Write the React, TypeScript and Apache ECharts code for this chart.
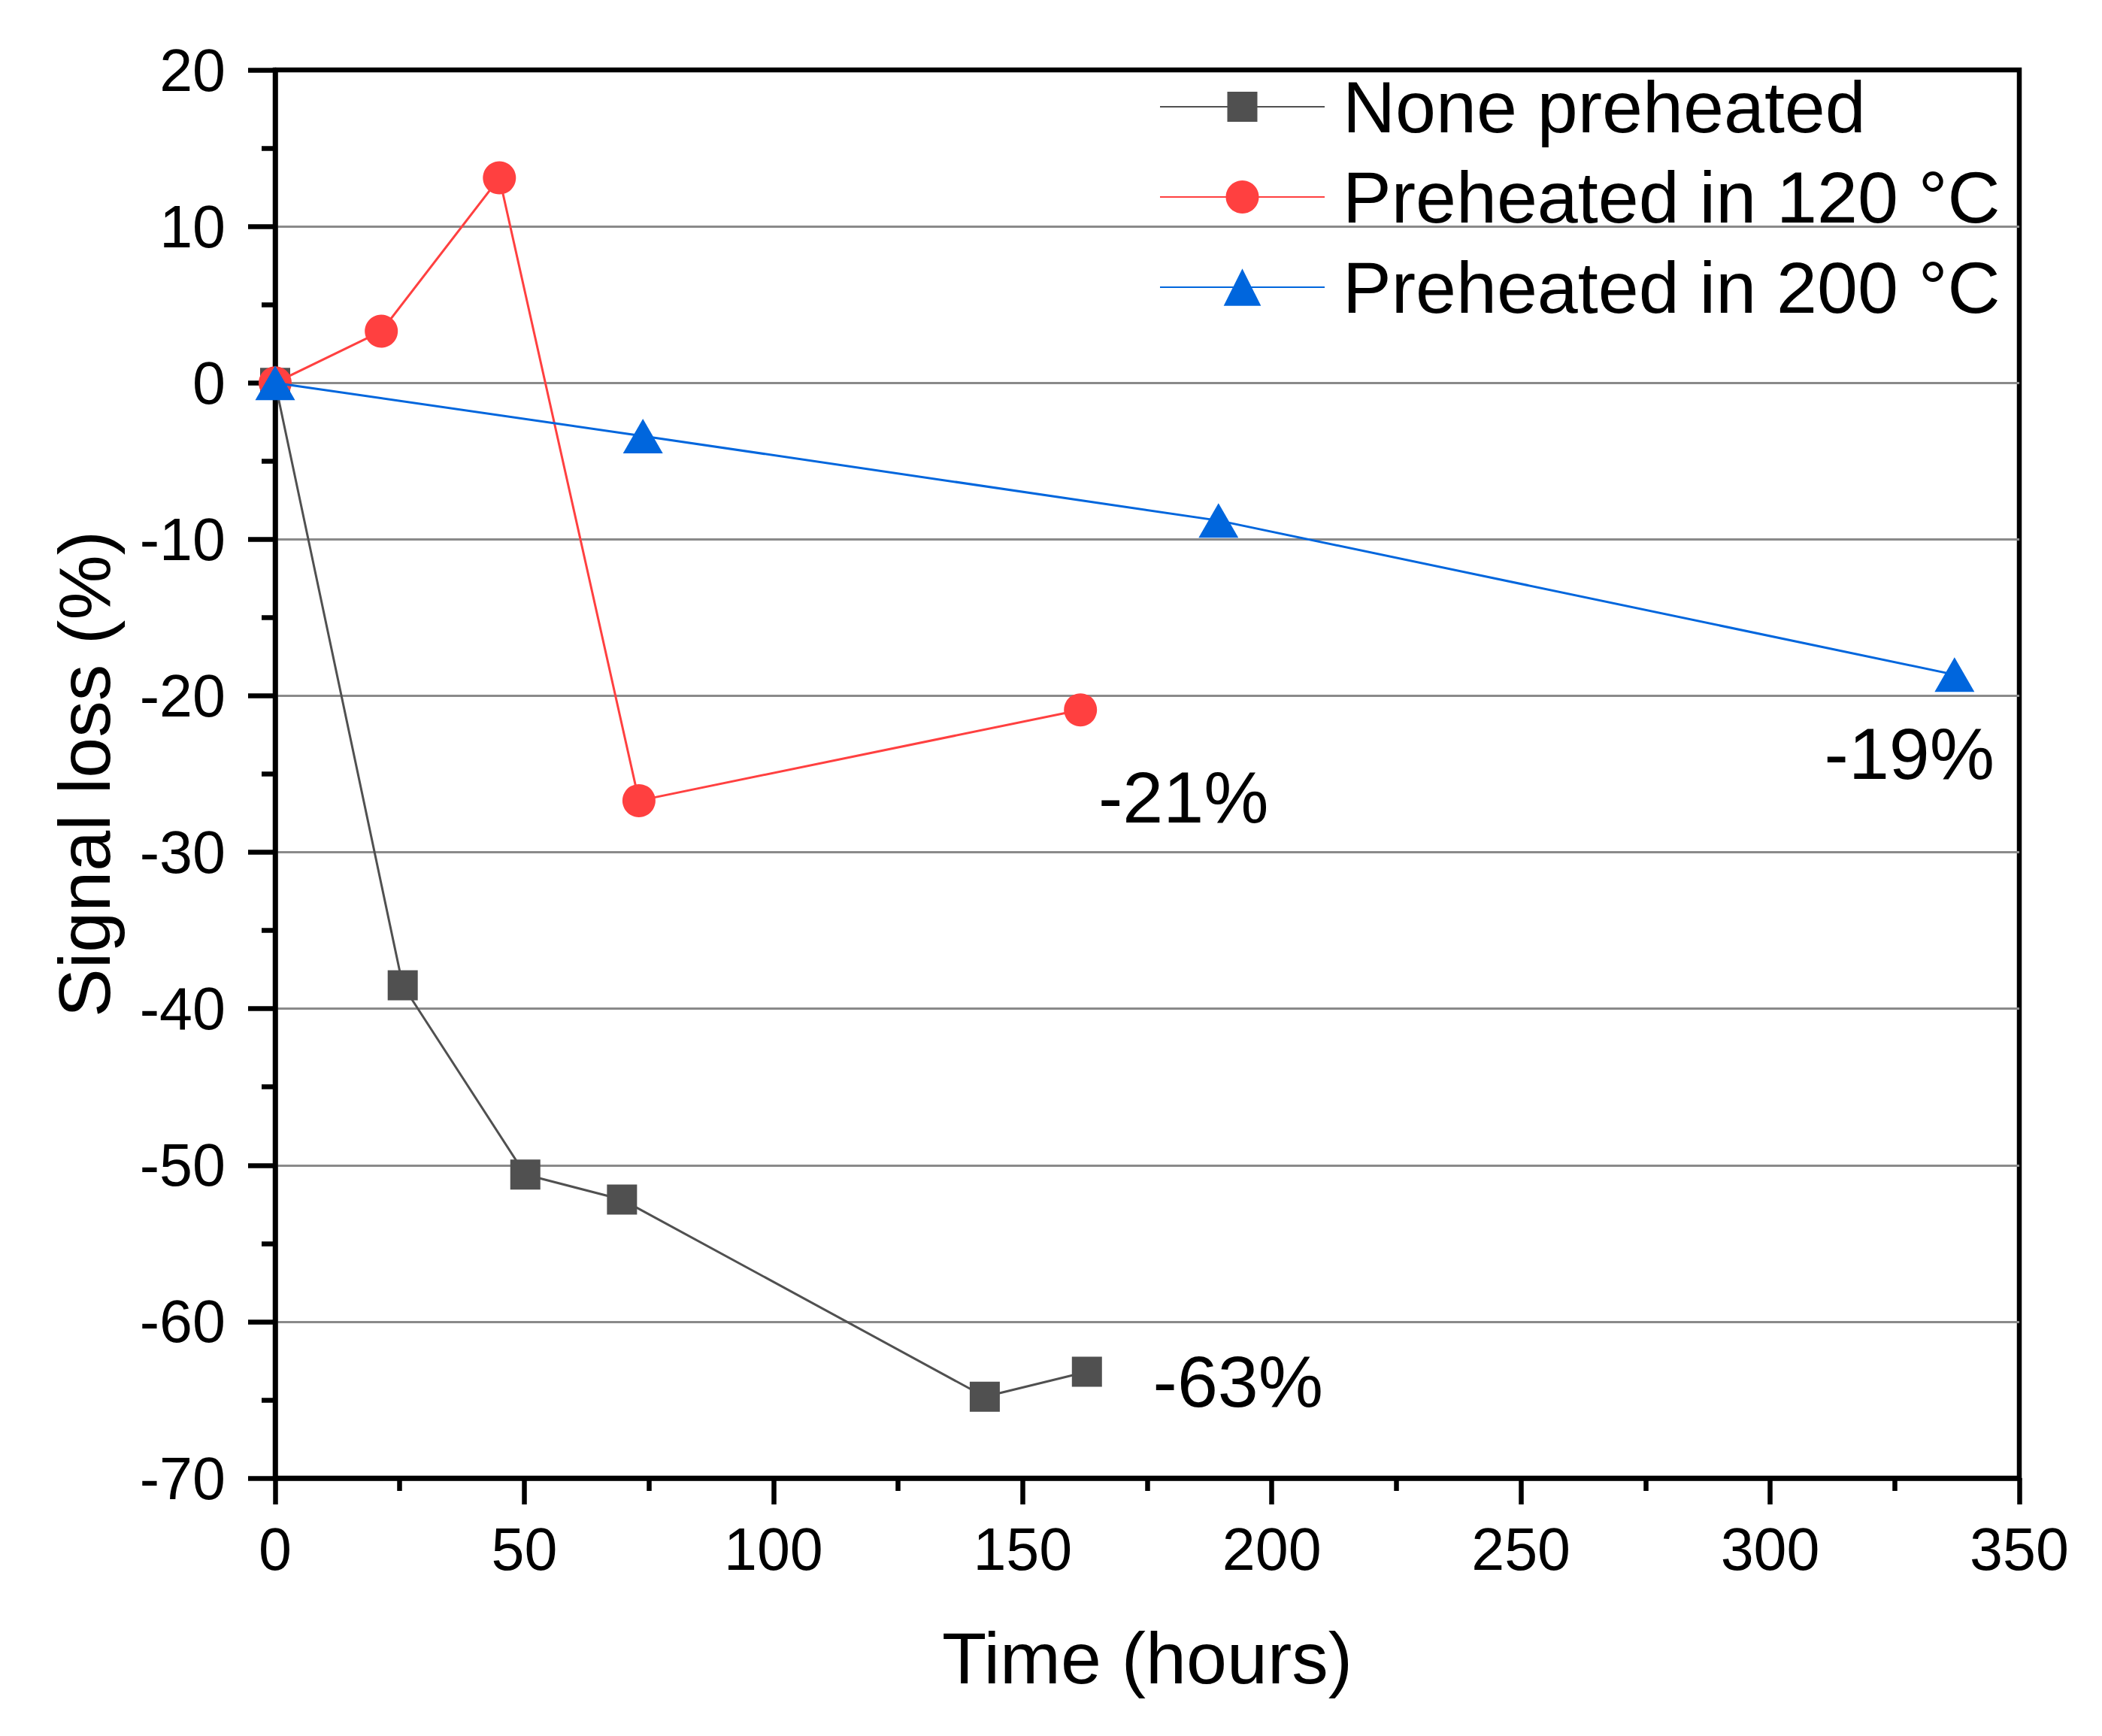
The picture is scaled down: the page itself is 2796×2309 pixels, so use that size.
import React, { useEffect, useRef } from "react";
import * as echarts from "echarts";

const seriesNames = ["None preheated", "Preheated in 120 °C", "Preheated in 200 °C"];

const noneHours = [0, 25.6, 50.2, 69.6, 142.4, 162.9];
const noneLoss = [0, -38.5, -50.6, -52.2, -64.8, -63.2];

const heat120Hours = [0, 21.3, 45.0, 73.0, 161.6];
const heat120Loss = [0, 3.3, 13.1, -26.7, -20.9];

const heat200Hours = [0, 73.8, 189.3, 337.0];
const heat200Loss = [0, -3.4, -8.8, -18.65];

const endLabels = ["-63%", "-21%", "-19%"];

const xTicks = { min: 0, max: 350, interval: 50 };
const yTicks = { min: -70, max: 20, interval: 10 };

const FONT = "Liberation Sans, Arial, sans-serif";

function buildData(xs: number[], ys: number[], label: string, offset: number[]) {
  return xs.map((x, i) => {
    const item: any = { value: [x, ys[i]] };
    if (i === xs.length - 1) {
      item.label = {
        show: true,
        position: "inside",
        formatter: label,
        offset,
        align: "center",
        verticalAlign: "middle",
        fontSize: 97,
        fontFamily: FONT,
        color: "#000",
      };
    }
    return item;
  });
}

export default function App() {
  const ref = useRef<HTMLDivElement>(null);
  useEffect(() => {
    if (!ref.current) return;
    const chart = echarts.init(ref.current, null, { renderer: "svg" });
    const colors = ["#505050", "#ff4040", "#0066dd"];
    const legendRows = [142, 262, 382];
    const legendItemHeights = [50, 55, 62];
    const legends = seriesNames.map((n, i) => ({
      data: [n],
      orient: "vertical",
      left: 1542,
      top: legendRows[i] - 50,
      padding: 0,
      itemWidth: 219,
      itemHeight: legendItemHeights[i],
      selectedMode: false,
      textStyle: {
        fontSize: 97,
        fontFamily: FONT,
        color: "#000",
        lineHeight: 100,
        padding: [0, 0, 0, 19],
      },
    }));
    chart.setOption({
      animation: false,
      backgroundColor: "#fff",
      textStyle: { fontFamily: FONT },
      grid: {
        left: 366,
        top: 93,
        width: 2320,
        height: 1873,
        show: true,
        borderColor: "#000",
        borderWidth: 6.5,
        backgroundColor: "transparent",
      },
      legend: legends,
      xAxis: {
        type: "value",
        min: xTicks.min,
        max: xTicks.max,
        interval: xTicks.interval,
        name: "Time (hours)",
        nameLocation: "middle",
        nameGap: 191,
        nameTextStyle: { fontSize: 97, fontFamily: FONT, color: "#000" },
        axisLine: { show: true, onZero: false, lineStyle: { color: "#000", width: 6.5 } },
        axisTick: { show: true, inside: false, length: 35, lineStyle: { color: "#000", width: 6.5 } },
        minorTick: { show: true, splitNumber: 2, length: 17, lineStyle: { color: "#000", width: 6.5 } },
        axisLabel: { fontSize: 79, fontFamily: FONT, color: "#000", margin: 55 },
        splitLine: { show: false },
      },
      yAxis: {
        type: "value",
        min: yTicks.min,
        max: yTicks.max,
        interval: yTicks.interval,
        name: "Signal loss (%)",
        nameLocation: "middle",
        nameGap: 205,
        nameTextStyle: { fontSize: 97, fontFamily: FONT, color: "#000" },
        axisLine: { show: true, onZero: false, lineStyle: { color: "#000", width: 6.5 } },
        axisTick: { show: true, inside: false, length: 36, lineStyle: { color: "#000", width: 6.5 } },
        minorTick: { show: true, splitNumber: 2, length: 18, lineStyle: { color: "#000", width: 6.5 } },
        axisLabel: { fontSize: 79, fontFamily: FONT, color: "#000", margin: 66 },
        splitLine: {
          show: true,
          showMinLine: false,
          showMaxLine: false,
          lineStyle: { color: "#8a8a8a", width: 3 },
        },
      },
      series: [
        {
          name: seriesNames[0],
          type: "line",
          data: buildData(noneHours, noneLoss, endLabels[0], [201, 13]),
          symbol: "rect",
          symbolSize: 40,
          itemStyle: { color: colors[0] },
          lineStyle: { color: colors[0], width: 3 },
          clip: false,
          z: 3,
        },
        {
          name: seriesNames[1],
          type: "line",
          data: buildData(heat120Hours, heat120Loss, endLabels[1], [137, 116]),
          symbol: "circle",
          symbolSize: 44,
          itemStyle: { color: colors[1] },
          lineStyle: { color: colors[1], width: 3 },
          clip: false,
          z: 4,
        },
        {
          name: seriesNames[2],
          type: "line",
          data: buildData(heat200Hours, heat200Loss, endLabels[2], [-60, 105]),
          symbol: "triangle",
          symbolSize: [53, 46],
          itemStyle: { color: colors[2] },
          lineStyle: { color: colors[2], width: 3 },
          clip: false,
          z: 5,
        },
      ],
    });
    return () => chart.dispose();
  }, []);
  return (
    <div
      ref={ref}
      style={{ position: "absolute", left: 0, top: 0, width: 2796, height: 2309, background: "#fff" }}
    />
  );
}
